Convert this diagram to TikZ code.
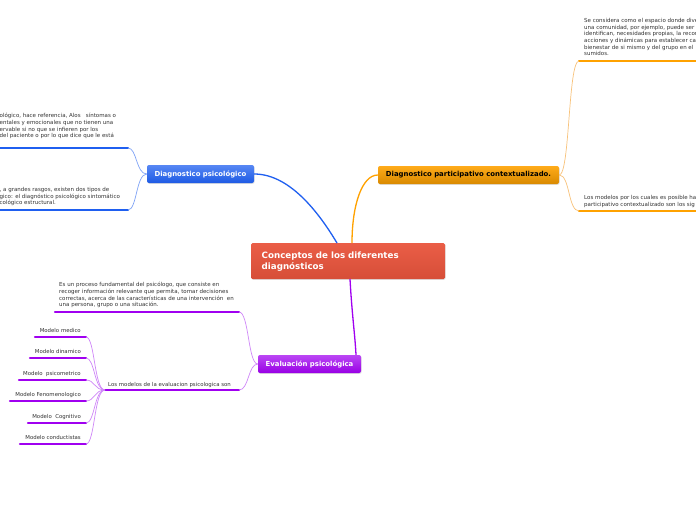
\documentclass[tikz,border=0pt]{standalone}
\usepackage{fontspec}
\setmainfont{DejaVu Sans}
\usetikzlibrary{shadows}
\definecolor{tcol}{HTML}{333333}
\definecolor{bluem}{HTML}{1F5FF0}
\definecolor{bluel}{HTML}{7FA3F6}
\definecolor{orangem}{HTML}{FFA200}
\definecolor{orangel}{HTML}{F8C27A}
\definecolor{purplem}{HTML}{A000F0}
\definecolor{purplel}{HTML}{CF86F8}
\definecolor{redm}{HTML}{E9553D}
\tikzset{
  x=1pt,y=-1pt,
  topic/.style={rectangle,rounded corners=2pt,inner sep=0pt,minimum height=18pt,
    font=\fontsize{6.9}{8}\selectfont\bfseries,drop shadow={shadow xshift=0.6pt,shadow yshift=-0.8pt,opacity=0.25}},
  small/.style={inner sep=0pt,align=left,text=tcol,font=\fontsize{5.5}{6.7}\selectfont},
  label/.style={inner sep=0pt,text=tcol,font=\fontsize{5.4}{6.7}\selectfont},
  uline/.style={line width=2.2pt,line cap=round},
  thin/.style={line width=0.7pt},
  main/.style={line width=1.3pt},
}
\begin{document}
\begin{tikzpicture}
\useasboundingbox (0,0) rectangle (696,520);
\clip (0,0) rectangle (696,520);
\fill[white] (0,0) rectangle (696,520);

% central
\node[rectangle,rounded corners=1.5pt,minimum width=194pt,minimum height=36pt,inner sep=0pt,
  top color=redm!95!white,bottom color=redm!92!black,draw=none,
  drop shadow={shadow xshift=0.6pt,shadow yshift=-0.8pt,opacity=0.25}] (c) at (348,261) {};
\node[inner sep=0pt,align=left,text=white,font=\fontsize{8.7}{11}\selectfont\bfseries,anchor=west] (ct) at (261.5,261.5) {Conceptos de los diferentes\\diagnósticos};

% topics
\node[topic,minimum width=107pt,top color=bluem!75!white,bottom color=bluem!95!black,text=white] (dp) at (200.5,174) {Diagnostico psicológico};
\node[topic,minimum width=181pt,top color=orangem!90!white,bottom color=orangem!85!black,text=black] (dc) at (468.5,175) {Diagnostico participativo contextualizado.};
\node[topic,minimum width=103pt,top color=purplem!72!white,bottom color=purplem!95!black,text=white] (ep) at (309.5,364) {Evaluación psicológica};

% main connectors
\coordinate (cb) at (337,243);
\coordinate (co) at (352,243);
\coordinate (cp) at (350,279);
\draw[main,bluem] (dp.east) .. controls (292,174) and (322,218) .. (cb);
\draw[main,orangem] (co) .. controls (352,205) and (362,175) .. (dc.west);
\draw[main,purplem] (cp) .. controls (352,315) and (355,335) .. (ep.north -| 356,0);

% blue branch
\coordinate (b1a) at (-2,148); \coordinate (b1b) at (128,148);
\coordinate (b2a) at (-2,210); \coordinate (b2b) at (128,210);
\draw[uline,bluem] (b1a) -- (b1b);
\draw[uline,bluem] (b2a) -- (b2b);
\draw[thin,bluel] (b1b) .. controls (137,148) and (136,174) .. (dp.west);
\draw[thin,bluel] (b2b) .. controls (137,210) and (136,174) .. (dp.west);
\node[small,anchor=north west] (bt1) at (-0.5,113) {ológico, hace referencia, Alos \ \ síntomas o\\entales y emocionales que no tienen una\\ervable si no que se infieren por los\\del paciente o por lo que dice que le está};
\node[small,anchor=north west] (bt2) at (-0.5,187) {, a grandes rasgos, existen dos tipos de\\gico: el diagnóstico psicológico sintomático\\cológico estructural.};

% orange branch
\coordinate (o1a) at (579,61); \coordinate (o1b) at (700,61);
\coordinate (o2a) at (579,211); \coordinate (o2b) at (700,211);
\draw[uline,orangem] (o1a) -- (o1b);
\draw[uline,orangem] (o2a) -- (o2b);
\draw[thin,orangel] (dc.east) .. controls (570,175) and (568,61) .. (o1a);
\draw[thin,orangel] (dc.east) .. controls (570,175) and (568,211) .. (o2a);
\node[small,anchor=north west] (ot1) at (584,18) {Se considera como el espacio donde dive\\una comunidad, por ejemplo, puede ser\\identifican, necesidades propias, la recon\\acciones y dinámicas para establecer car\\bienestar de si mismo y del grupo en el\\sumidos.};
\node[small,anchor=north west] (ot2) at (584,195) {Los modelos por los cuales es posible ha\\participativo contextualizado son los sig};

% purple branch
\coordinate (p1a) at (55,312); \coordinate (p1b) at (239,312);
\coordinate (p2a) at (105,390); \coordinate (p2b) at (239,390);
\draw[uline,purplem] (p1a) -- (p1b);
\draw[uline,purplem] (p2a) -- (p2b);
\draw[thin,purplel] (p1b) .. controls (249,312) and (248,364) .. (ep.west);
\draw[thin,purplel] (p2b) .. controls (249,390) and (248,364) .. (ep.west);
\node[small,anchor=north west] (pt1) at (59,282) {Es un proceso fundamental del psicólogo, que consiste en\\recoger información relevante que permita, tomar decisiones\\correctas, acerca de las características de una intervención \ en\\una persona, grupo o una situación.};
\node[label,anchor=base west] (pt2) at (108,386) {Los modelos de la evaluacion psicologica son};

% models
\foreach \n/\y/\xa/\t in {m1/337/35/Modelo medico, m2/358/30/Modelo dinamico, m3/380/19/Modelo \ psicometrico, m4/401/10/Modelo Fenomenologico, m5/423/28/Modelo \ Cognitivo, m6/444/20/Modelo conductistas}{
  \coordinate (\n a) at (\xa,\y);
  \coordinate (\n b) at (86,\y);
  \draw[uline,purplem] (\n a) -- (\n b);
  \draw[thin,purplel] (\n b) .. controls (95,\y) and (94,390) .. (p2a);
  \node[label,anchor=base east] (\n t) at (81,\y-4.3) {\t};
}
\end{tikzpicture}
\end{document}
